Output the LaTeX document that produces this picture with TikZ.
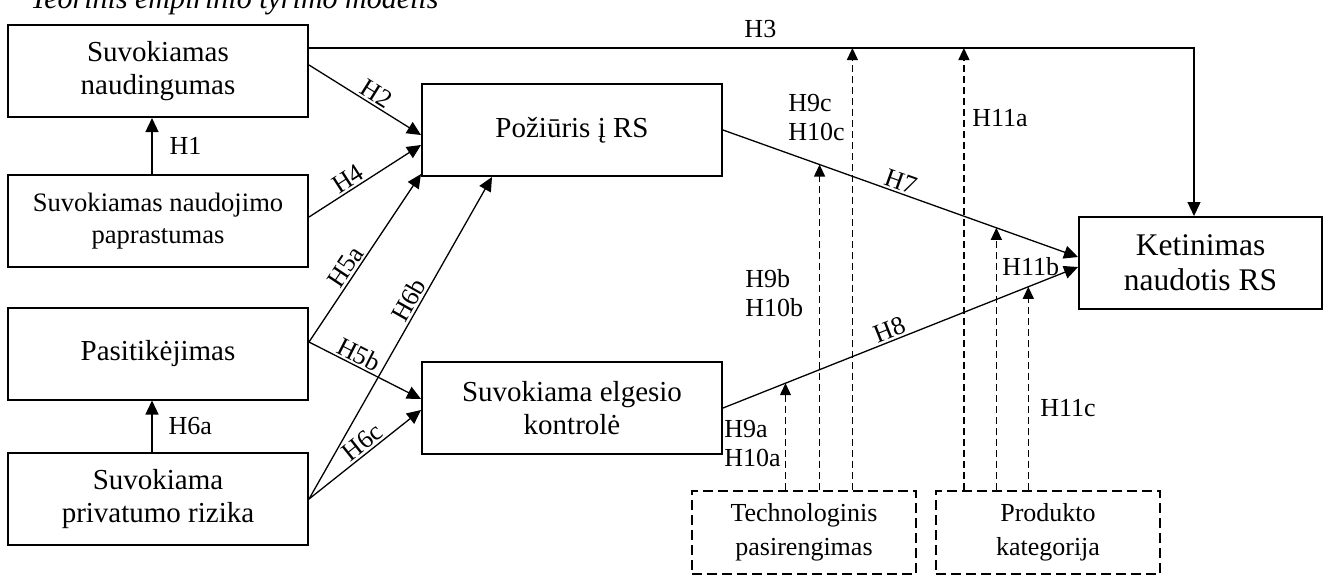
\documentclass[tikz,border=0pt]{standalone}
\usepackage{fontspec}
\setmainfont{Liberation Serif}
\usetikzlibrary{arrows.meta}

\begin{document}
\begin{tikzpicture}[x=0.5pt,y=-0.5pt,
    box/.style={draw,line width=1pt,minimum width=150pt,minimum height=46pt,
      align=center,inner sep=2pt,font=\fontsize{14.5}{16.5}\selectfont},
    modbox/.style={box,dash pattern=on 5pt off 2.5pt,minimum width=112pt,
      minimum height=41.5pt,font=\fontsize{13}{17}\selectfont},
    hyp/.style={inner sep=1pt,font=\fontsize{13}{14.5}\selectfont,align=left},
    link/.style={-{Triangle[length=7pt,width=6.5pt]},line width=0.65pt},
    modlink/.style={-{Triangle[length=6pt,width=5.5pt]},line width=0.6pt,
      dash pattern=on 3.5pt off 2pt}]
  \useasboundingbox (0,0) rectangle (1325,575);
  \clip (0,0) rectangle (1325,575);

  \node[anchor=base west,inner sep=0pt,font=\fontsize{15}{17}\selectfont\itshape] (title) at (30,8)
    {Teorinis empirinio tyrimo modelis};

  \node[box] (naud) at (158,71) {Suvokiamas\\naudingumas};
  \node[box,font=\fontsize{13.3}{16}\selectfont] (papr) at (158,221) {Suvokiamas naudojimo\\paprastumas};
  \node[box] (pasit) at (158,353.5) {Pasitikėjimas};
  \node[box] (rizika) at (158,499) {Suvokiama\\privatumo rizika};
  \node[box] (poziuris) at (572,130) {Požiūris į RS};
  \node[box] (kontrole) at (572,408) {Suvokiama elgesio\\kontrolė};
  \node[box,minimum width=121.5pt,font=\fontsize{15.75}{17.5}\selectfont] (ketin) at (1200.5,263) {Ketinimas\\naudotis RS};
  \node[modbox] (tech) at (804,532.5) {Technologinis\\pasirengimas};
  \node[modbox] (prod) at (1048,532.5) {Produkto\\kategorija};

  \coordinate (pasit-out) at ([yshift=5.75pt]pasit.east);
  \path[link]
    ([xshift=-3pt]papr.north) edge node[hyp,right=7.5pt] {H1} ([xshift=-3pt]naud.south)
    ([xshift=-3pt]rizika.north) edge node[hyp,right=7pt] {H6a} ([xshift=-3pt]pasit.south)
    ([yshift=3pt]naud.east) edge node[hyp,sloped,above,pos=0.55] {H2} ([yshift=-2.5pt]poziuris.west)
    ([yshift=2pt]papr.east) edge node[hyp,sloped,above,pos=0.4] {H4} ([yshift=-7.5pt]poziuris.west)
    (pasit-out) edge node[hyp,sloped,above,pos=0.41] {H5a} ([yshift=1.5pt]poziuris.south west)
    (pasit-out) edge node[hyp,sloped,above,pos=0.4] {H5b} ([yshift=4.5pt]kontrole.west)
    (rizika.east) edge node[hyp,sloped,above,pos=0.6] {H6b} ([xshift=-40pt]poziuris.south)
    (rizika.east) edge node[hyp,sloped,above,pos=0.54] {H6c} ([yshift=-1pt]kontrole.west);

  \draw[link] ([yshift=11.5pt]naud.east) -| node[hyp,pos=0.255,above=4pt] {H3}
    coordinate[pos=0.307] (h3t) coordinate[pos=0.37] (h3p) ([xshift=-3.25pt]ketin.north);
  \draw[link] (poziuris.east) -- coordinate[pos=0.272] (h7t) coordinate[pos=0.77] (h7p)
    node[hyp,sloped,above,pos=0.49] {H7} ([yshift=3pt]ketin.west);
  \draw[link] (kontrole.east) -- coordinate[pos=0.176] (h8t) coordinate[pos=0.86] (h8p)
    node[hyp,sloped,above,pos=0.48] {H8} ([yshift=-2pt]ketin.west);

  \path[modlink]
    (tech.north -| h8t) edge (h8t)
    (tech.north -| h7t) edge (h7t)
    (tech.north -| h3t) edge (h3t)
    (prod.north -| h3p) edge (h3p)
    (prod.north -| h7p) edge (h7p)
    (prod.north -| h8p) edge (h8p);

  \node[hyp,anchor=west] (lab9a) at (722,444) {H9a\\H10a};
  \node[hyp,anchor=west] (lab9b) at (743,293) {H9b\\H10b};
  \node[hyp,anchor=west] (lab9c) at (786,118) {H9c\\H10c};
  \node[hyp,anchor=west] (lab11a) at (970,118) {H11a};
  \node[hyp,anchor=west] (lab11b) at (1000,267) {H11b};
  \node[hyp,anchor=west] (lab11c) at (1038,408) {H11c};
\end{tikzpicture}
\end{document}
